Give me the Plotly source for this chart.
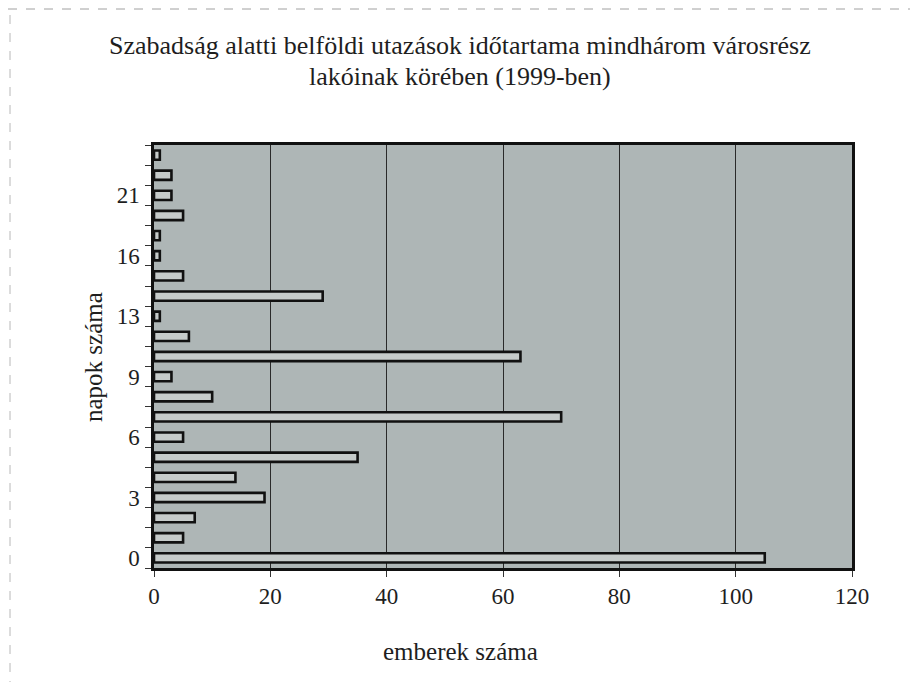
import plotly.graph_objects as go

# number of days (category labels, bottom to top)
days = ["0", "1", "2", "3", "4", "5", "6", "7", "8", "9", "10",
        "12", "13", "14", "15", "16", "18", "20", "21", "28", "30"]
# number of people
people = [105, 5, 7, 19, 14, 35, 5, 70, 10, 3, 63,
          6, 1, 29, 5, 1, 1, 5, 3, 3, 1]
x_ticks = [0, 20, 40, 60, 80, 100, 120]

title_line1 = "Szabadság alatti belföldi utazások időtartama mindhárom városrész"
title_line2 = "lakóinak körében (1999-ben)"
x_title = "emberek száma"
y_title = "napok száma"

pos = list(range(len(days)))
label_pos = pos[::3]
label_txt = [days[i] for i in label_pos]

OFF = 8  # page body margin
W, H = 918 - OFF, 682 - OFF
PL, PR, PT, PB = 154, 852, 145, 568  # plot area in page pixels
L, R, T, B = PL - OFF, W - (PR - OFF), PT - OFF, H - (PB - OFF)
pw, ph = W - L - R, H - T - B


def px_x(px):
    return (px - OFF - L) / pw


def px_y(py):
    return (H - B - (py - OFF)) / ph


font = "Liberation Serif, Times New Roman, serif"
col = "#1e1e1e"

fig = go.Figure(go.Bar(
    x=people, y=pos, orientation="h",
    marker=dict(color="#c6cbca", line=dict(color="#111111", width=2.6)),
    width=0.46,
))

fig.update_layout(
    width=W, height=H,
    margin=dict(l=L, r=R, t=T, b=B),
    paper_bgcolor="white",
    plot_bgcolor="#aeb6b6",
    showlegend=False,
    font=dict(family=font, size=23, color=col),
    annotations=[
        dict(text=title_line1, x=px_x(460), y=px_y(45), xref="paper", yref="paper",
             showarrow=False, font=dict(size=26, family=font, color=col),
             xanchor="center", yanchor="middle"),
        dict(text=title_line2, x=px_x(460), y=px_y(76), xref="paper", yref="paper",
             showarrow=False, font=dict(size=26, family=font, color=col),
             xanchor="center", yanchor="middle"),
        dict(text=x_title, x=px_x(460), y=px_y(651), xref="paper", yref="paper",
             showarrow=False, font=dict(size=25, family=font, color=col),
             xanchor="center", yanchor="middle"),
        dict(text=y_title, x=px_x(93), y=px_y(357), xref="paper", yref="paper",
             showarrow=False, textangle=-90,
             font=dict(size=25, family=font, color=col),
             xanchor="center", yanchor="middle"),
    ],
    shapes=[
        dict(type="line", xref="paper", yref="paper",
             x0=px_x(8), x1=px_x(918), y0=px_y(9), y1=px_y(9),
             line=dict(color="#a0a0a0", width=1, dash="dash")),
        dict(type="line", xref="paper", yref="paper",
             x0=px_x(10), x1=px_x(10), y0=px_y(15), y1=px_y(682),
             line=dict(color="#b8b8b8", width=1, dash="dash")),
    ],
)

fig.update_xaxes(
    range=[0, 120], tickvals=x_ticks, ticks="outside", ticklen=6,
    tickcolor="#333333", showgrid=True, gridcolor="#2a2a2a", gridwidth=1,
    showline=True, linecolor="#111111", linewidth=2.5, mirror=True,
    zeroline=False, tickfont=dict(size=23), fixedrange=True,
)
fig.update_yaxes(
    range=[-0.5, len(days) - 0.5], tickvals=label_pos, ticktext=label_txt,
    ticks="outside", ticklen=0, tickcolor="#333333", ticklabelstandoff=7,
    minor=dict(tickvals=[p - 0.5 for p in pos] + [len(days) - 0.5],
               ticks="outside", ticklen=6, tickcolor="#333333", showgrid=False),
    showgrid=False, showline=True, linecolor="#111111", linewidth=2.5,
    mirror=True, zeroline=False, tickfont=dict(size=23), fixedrange=True,
)

fig.write_html("out.html")
